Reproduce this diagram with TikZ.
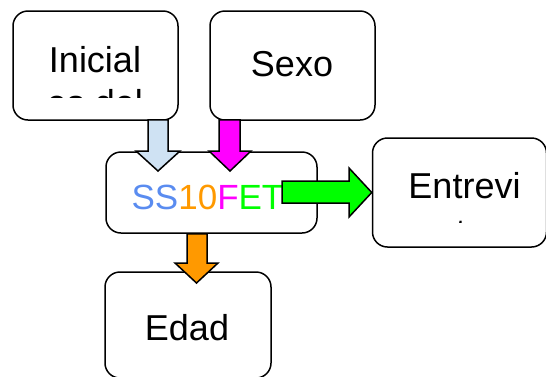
\documentclass[tikz,border=0pt]{standalone}
\usepackage{fontspec}
\setmainfont{Liberation Sans}
\usetikzlibrary{calc}
\definecolor{lblue}{RGB}{207,226,243}
\definecolor{ssblue}{RGB}{90,140,240}
\definecolor{orng}{RGB}{255,153,0}
\definecolor{magn}{RGB}{255,0,255}
\definecolor{grn}{RGB}{0,255,0}
\tikzset{
  box/.style={draw=black, line width=1.5pt, rounded corners=15pt, inner sep=0pt},
  lbl/.style={anchor=base, inner sep=0pt, font=\fontsize{36}{42}\selectfont},
  blockarrow/.style={draw=black, line width=1.5pt, line join=miter},
}
\begin{document}
\begin{tikzpicture}[x=1pt,y=-1pt]
\useasboundingbox (0,0) rectangle (546,376);
% boxes
\node[box, minimum width=165pt, minimum height=109pt] (ini) at (95.5,65.5) {};
\node[box, minimum width=165pt, minimum height=109pt] (sexo) at (292.5,65.5) {};
\node[box, minimum width=211pt, minimum height=81pt] (ss) at (211.5,192.5) {};
\node[box, minimum width=174pt, minimum height=109pt] (ent) at (459.5,192.5) {};
\node[box, minimum width=166pt, minimum height=106pt] (edad) at (188,325) {};
% texts
\node[lbl] (tini) at (95,72) {Inicial};
\begin{scope}
  \clip (20,80) rectangle (170,97);
  \node[lbl] (tini2) at (95,115) {es del};
\end{scope}
\node[lbl] (tsexo) at (292,76) {Sexo};
\node[lbl, font=\fontsize{35}{42}\selectfont] (tss) at (207.5,209)
  {\textcolor{ssblue}{SS}\textcolor{orng}{10}\textcolor{magn}{F}\textcolor{grn}{ET}};
\node[lbl] (tent) at (464.5,198) {Entrevi};
\begin{scope}
  \clip (380,205) rectangle (540,222);
  \node[lbl] (tent2) at (462,244) {sta};
\end{scope}
\node[lbl] (tedad) at (187,340) {Edad};
% block arrows
\draw[blockarrow, fill=lblue] ($(ini.south)+(52.5,-1)$) coordinate (a1)
  -- ++(20,0) -- (168,151) -- (180,151) -- (158,171) coordinate (a1t) -- (136,151) -- (148,151) -- cycle;
\draw[blockarrow, fill=magn] ($(sexo.south)+(-73.5,-1)$) coordinate (a2)
  -- ++(21,0) -- (240,151) -- (251,151) -- (230,171) coordinate (a2t) -- (209,151) -- (219,151) -- cycle;
\draw[blockarrow, fill=grn] (282,181) coordinate (a3) -- (349,181) -- (349,168)
  -- (ent.west) coordinate (a3t) -- (349,217) -- (349,203) -- (282,203) -- cycle;
\draw[blockarrow, fill=orng] ($(ss.south)+(-24.5,0)$) coordinate (a4)
  -- ++(20,0) -- (207,263) -- (218,263) -- (196.5,283) coordinate (a4t) -- (175,263) -- (187,263) -- cycle;
\end{tikzpicture}
\end{document}
